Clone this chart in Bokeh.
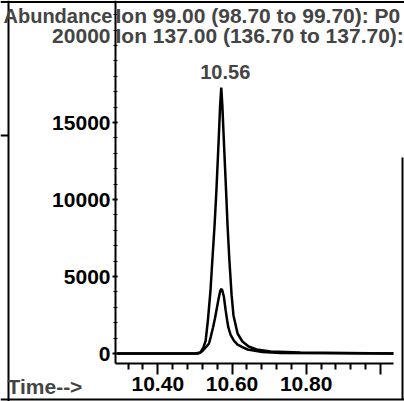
from bokeh.plotting import figure
from bokeh.models import Label, FixedTicker, Range1d, LinearAxis, Span
from bokeh.embed import file_html
from bokeh.resources import INLINE

# ---- data ----
# Ion 99.00 trace (retention time in min, abundance)
time_99 = [10.29, 10.50, 10.515, 10.523, 10.529, 10.535, 10.542, 10.547, 10.553,
           10.558, 10.564, 10.568, 10.571, 10.574, 10.578, 10.584, 10.588, 10.593,
           10.599, 10.604, 10.615, 10.628, 10.645, 10.666, 10.704, 10.785, 11.035]
abund_99 = [0, 0, 65, 390, 840, 2140, 4090, 6040, 8310,
            10590, 13830, 16100, 17270, 16100, 13830, 10590, 8310, 6040,
            3770, 2470, 1300, 780, 455, 260, 130, 65, 0]

# Ion 137.00 trace
time_137 = [10.29, 10.50, 10.510, 10.520, 10.529, 10.538, 10.543, 10.549, 10.554,
            10.558, 10.564, 10.568, 10.571, 10.574, 10.578, 10.583, 10.587, 10.590,
            10.596, 10.605, 10.615, 10.628, 10.642, 10.658, 10.682, 10.731, 11.035]
abund_137 = [0, 0, 0, 150, 390, 650, 1100, 1710, 2270,
             2790, 3570, 4030, 4200, 4090, 3700, 2790, 2140, 1710,
             1230, 840, 580, 410, 260, 195, 97, 32, 0]

x_ticks = [10.40, 10.60, 10.80, 11.00]
x_tick_labels = ["10.40", "10.60", "10.80", ""]
x_minor = [10.32, 10.36, 10.44, 10.48, 10.52, 10.56, 10.64, 10.68, 10.72,
           10.76, 10.84, 10.88, 10.92, 10.96]
y_ticks = [0, 5000, 10000, 15000]
y_top_label = "20000"
y_minor = [i * 1000 for i in range(1, 23)]

peak_label = "10.56"
header_left = "Abundance"
header_1 = "Ion  99.00 (98.70 to 99.70): P0"
header_2 = "Ion 137.00 (136.70 to 137.70):"
x_title = "Time-->"

# ---- axes extents ----
t_axis_start, t_axis_end = 10.286, 11.035
a_axis_start, a_axis_end = -649, 22924

W, H = 404, 401
PX_PER_MIN = 371.0
PX_PER_COUNT = 1 / 64.94
T0 = 10.40 - 157.3 / PX_PER_MIN
T1 = T0 + W / PX_PER_MIN
A1 = 353 / PX_PER_COUNT
A0 = A1 - H / PX_PER_COUNT

def px_t(px):
    return T0 + px / PX_PER_MIN

def py_a(py):
    return A1 - py / PX_PER_COUNT

FONT = "Liberation Sans"
LABEL_SHIFT = 7   # compensates label baseline placement

p = figure(width=W, height=H, output_backend="svg", toolbar_location=None,
           x_range=Range1d(T0, T1), y_range=Range1d(A0, A1),
           x_axis_location=None, y_axis_location=None,
           min_border_left=0, min_border_top=0, min_border_right=0, min_border_bottom=0)
p.grid.visible = False
p.outline_line_color = None
p.background_fill_color = "white"
p.border_fill_color = "white"

# scanned page frame lines
p.add_layout(Span(location=py_a(1.5), dimension="width", line_color="black", line_width=2))
p.add_layout(Span(location=py_a(399), dimension="width", line_color="black", line_width=2))
p.add_layout(Span(location=px_t(8), dimension="height", line_color="black", line_width=2))
p.segment(x0=[px_t(402), px_t(0)], y0=[py_a(157), py_a(135)],
          x1=[px_t(402), px_t(8)], y1=[py_a(399), py_a(135)],
          line_color="black", line_width=2)

xaxis = LinearAxis(fixed_location=a_axis_start, bounds=(t_axis_start, t_axis_end),
                   ticker=FixedTicker(ticks=x_ticks, minor_ticks=x_minor),
                   major_label_overrides={t: l for t, l in zip(x_ticks, x_tick_labels)})
xaxis.axis_line_width = 2
xaxis.major_tick_line_width = 2
xaxis.minor_tick_line_width = 2
xaxis.major_tick_in = 0
xaxis.major_tick_out = 11
xaxis.minor_tick_in = 0
xaxis.minor_tick_out = 6
xaxis.major_label_standoff = 3
xaxis.major_label_text_font = FONT
xaxis.major_label_text_font_style = "bold"
xaxis.major_label_text_font_size = "21px"
xaxis.major_label_text_color = "black"
p.add_layout(xaxis, "below")

yaxis = LinearAxis(fixed_location=t_axis_start, bounds=(a_axis_start, a_axis_end),
                   ticker=FixedTicker(ticks=y_ticks, minor_ticks=y_minor))
yaxis.axis_line_width = 2
yaxis.major_tick_line_width = 2
yaxis.major_tick_in = 2
yaxis.major_tick_out = 3
yaxis.minor_tick_in = 2
yaxis.minor_tick_out = 2
yaxis.major_label_standoff = 2
yaxis.major_label_text_font = FONT
yaxis.major_label_text_font_style = "bold"
yaxis.major_label_text_font_size = "21px"
yaxis.major_label_text_color = "black"
p.add_layout(yaxis, "left")

p.line(time_99, abund_99, line_color="black", line_width=2.5)
p.line(time_137, abund_137, line_color="black", line_width=2.5)

apex_i = abund_99.index(max(abund_99))
p.add_layout(Label(x=time_99[apex_i], y=abund_99[apex_i], text=peak_label,
                   x_offset=4, y_offset=9 + LABEL_SHIFT, text_align="center",
                   text_baseline="alphabetic",
                   text_font=FONT, text_font_style="bold", text_font_size="20px"))

def page_label(px, py, text, align="left", size="21px"):
    p.add_layout(Label(x=px_t(px), y=py_a(py - LABEL_SHIFT), text=text,
                       text_align=align, text_baseline="alphabetic", text_font=FONT,
                       text_font_style="bold", text_font_size=size))

page_label(3, 22, header_left, size="20px")
page_label(115, 22, header_1)
page_label(110, 42, y_top_label, align="right")
page_label(115, 42, header_2)
page_label(7, 393, x_title)

open("out.html", "w").write(file_html(p, INLINE))
